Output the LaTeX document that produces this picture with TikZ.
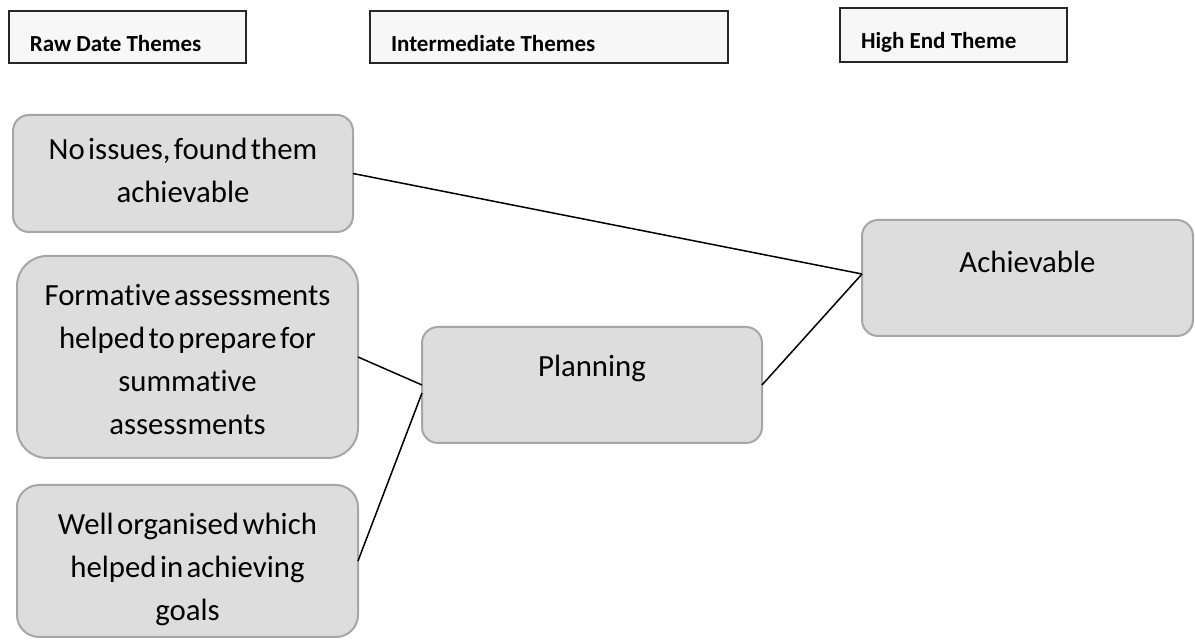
\documentclass[tikz,border=0pt]{standalone}
\usepackage{fontspec}
\setmainfont{Carlito}
\newfontfamily\themefont[Ligatures=NoCommon]{Carlito}
\protected\def\themetext{\themefont\fontsize{15.4}{21.5}\selectfont\spaceskip=0.11em plus 0.02em\relax}
\definecolor{boxfill}{HTML}{DDDDDD}
\definecolor{boxline}{HTML}{A6A6A6}
\definecolor{headfill}{HTML}{F7F7F7}
\tikzset{
  theme/.style={draw=boxline,fill=boxfill,line width=1pt,rounded corners=8pt,anchor=north west,inner sep=0pt,outer sep=0pt,align=flush center,font=\themetext},
  header/.style={draw=black!85,fill=headfill,line width=0.6pt,anchor=north west,inner ysep=0pt,inner xsep=10.5pt,outer sep=0pt,align=flush left,font=\fontsize{11.5}{14}\selectfont\bfseries,text height=20.5pt,text depth=5.5pt},
  link/.style={draw=black,line width=0.75pt}
}
\begin{document}
\begin{tikzpicture}[x=0.5pt,y=-0.5pt]
\useasboundingbox (0,0) rectangle (1195,640);

% column headers
\node[header,text width=97.5pt] (hraw) at (9,11) {Raw Date Themes};
\node[header,text width=158pt] (hmid) at (370,11) {Intermediate Themes};
\node[header,text width=92.5pt,text depth=6.5pt] (hhigh) at (840,8) {High End Theme};

% themes
\node[theme,text width=170pt,text height=22.5pt,text depth=36pt] (issues) at (13,115) {No issues, found them\\achievable};
\node[theme,text width=170.5pt,text height=25pt,text depth=76pt,rounded corners=15pt] (formative) at (17,256) {Formative assessments\\helped to prepare for\\summative\\assessments};
\node[theme,text width=170.5pt,text height=25pt,text depth=51pt,rounded corners=11pt] (organised) at (17,485) {Well organised which\\helped in achieving\\goals};
\node[theme,text width=170pt,text height=25pt,text depth=33pt] (planning) at (422,327) {Planning};
\node[theme,text width=165.5pt,text height=26.5pt,text depth=31.5pt] (achievable) at (862,220) {Achievable};

% links
\coordinate (ain) at ([yshift=2pt]achievable.west);
\coordinate (pin) at ([yshift=-4pt]planning.west);
\draw[link] (issues.east) -- (ain);
\draw[link] (formative.east) -- (planning.west);
\draw[link] (organised.east) -- (pin);
\draw[link] (planning.east) -- (ain);
\end{tikzpicture}
\end{document}
